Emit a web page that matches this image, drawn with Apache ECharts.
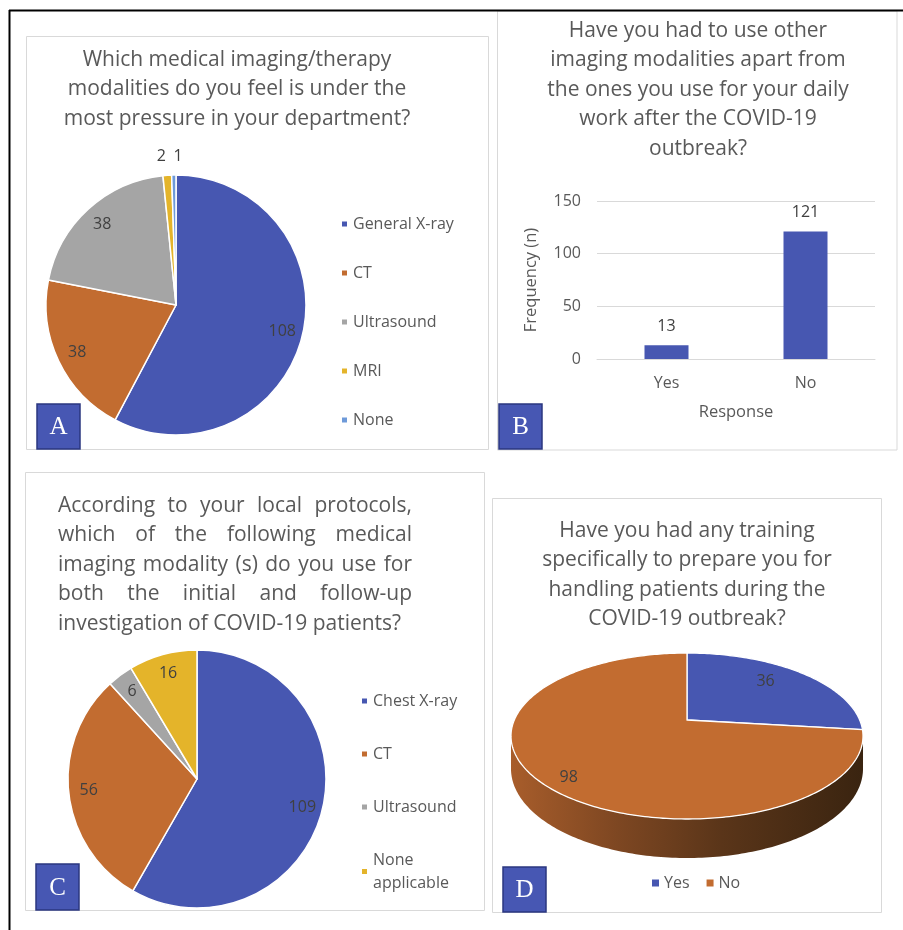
<!DOCTYPE html>
<html><head><meta charset="utf-8">
<script src="https://cdn.jsdelivr.net/npm/echarts@6/dist/echarts.min.js"></script>
<style>html,body{margin:0;padding:0;background:#fff}#c{width:903px;height:930px}</style>
</head><body><div id="c"></div>
<script>
// ---------- DATA ----------
// Panel A
const modalityNames = ['General X-ray', 'CT', 'Ultrasound', 'MRI', 'None'];
const modalityValues = [108, 38, 38, 2, 1];
// Panel B
const otherModalityCategories = ['Yes', 'No'];
const otherModalityValues = [13, 121];
const frequencyTicks = [0, 50, 100, 150];
// Panel C
const protocolNames = ['Chest X-ray', 'CT', 'Ultrasound', 'None applicable'];
const protocolValues = [109, 56, 6, 16];
// Panel D
const trainingNames = ['Yes', 'No'];
const trainingValues = [36, 98];

const titleA = ['Which medical imaging/therapy', 'modalities do you feel is under the', 'most pressure in your department?'];
const titleB = ['Have you had to use other', 'imaging modalities apart from', 'the ones you use for your daily', 'work after the COVID-19', 'outbreak?'];
const titleC = ['According to your local protocols,', 'which of the following medical', 'imaging modality (s) do you use for', 'both the initial and follow-up', 'investigation of COVID-19 patients?'];
const titleD = ['Have you had any training', 'specifically to prepare you for', 'handling patients during the', 'COVID-19 outbreak?'];
const panelLetters = ['A', 'B', 'C', 'D'];

// ---------- STYLE ----------
const FONT = '"Open Sans", sans-serif';
const TXT = '#595959', LBL = '#404040';
const COL = {blue: '#4757B1', orange: '#C26C30', gray: '#A5A5A5', yellow: '#E4B42A', lightBlue: '#6E9AD9'};
const modalityColors = [COL.blue, COL.orange, COL.gray, COL.yellow, COL.lightBlue];
const protocolColors = [COL.blue, COL.orange, COL.gray, COL.yellow];
const trainingColors = [COL.blue, COL.orange];
const TITLE_SIZE = 21, TITLE_LH = 29.5;

const chart = echarts.init(document.getElementById('c'), null, {renderer: 'canvas'});

function pieItems(names, values, colors) {
  return names.map((n, i) => ({name: n, value: values[i], itemStyle: {color: colors[i]}}));
}

// ---- 3D pie (panel D) via custom series ----
const P3 = {cx: 687, cy: 720, rx: 172.7, ry: 79.9, a: 0.193, h: 31.5};
const labelPosD = [{r: 0.66, depth: -0.2}, {r: 0.82, depth: 0.25}];
function proj(r, phi, depth) {
  const t = phi * Math.PI / 180;
  const u = r * Math.sin(t), v = r * Math.cos(t);
  const s = 1 / (1 + P3.a * v);
  return [P3.cx + P3.rx * u * s, P3.cy - P3.ry * v * s + P3.h * s * depth];
}
const PHI_L = Math.acos(-P3.a) * 180 / Math.PI, PHI_R = 360 - PHI_L;
function arc(a0, a1, depth) {
  const pts = [];
  const n = Math.max(2, Math.ceil(Math.abs(a1 - a0)));
  for (let k = 0; k <= n; k++) pts.push(proj(1, a0 + (a1 - a0) * k / n, depth));
  return pts;
}
function sliceRenderer(i) {
  return function (params, api) {
    const total = trainingValues.reduce((s, v) => s + v, 0);
    let start = 0;
    for (let k = 0; k < i; k++) start += trainingValues[k] / total * 360;
    const end = start + api.value(0) / total * 360;
    const color = api.visual('color');
    const children = [];
    const w0 = Math.max(start, PHI_L), w1 = Math.min(end, PHI_R);
    if (w1 > w0) {
      const pts = arc(w0, w1, 0).concat(arc(w1, w0, 1));
      children.push({
        type: 'polygon', z2: 0, shape: {points: pts},
        style: {
          fill: {type: 'linear', x: 511, y: 0, x2: 862, y2: 0, global: true,
            colorStops: [{offset: 0, color: '#A85D2B'}, {offset: 0.3, color: '#7E4722'},
              {offset: 0.6, color: '#5A3519'}, {offset: 1, color: '#3A2410'}]},
          stroke: null
        }
      });
    }
    const top = [proj(0, 0, 0)].concat(arc(start, end, 0));
    children.push({type: 'polygon', z2: 10, shape: {points: top},
      style: {fill: color, stroke: '#ffffff', lineWidth: 1.3}});
    const lp = labelPosD[i];
    const c = proj(lp.r, (start + end) / 2, lp.depth);
    children.push({type: 'text', z2: 20, x: c[0], y: c[1],
      style: {text: String(api.value(0)), fontSize: 16, fontFamily: FONT, fill: LBL, align: 'center', verticalAlign: 'middle'}});
    return {type: 'group', children};
  };
}

// ---- justified title (panel C) ----
function justifiedTitle(lines, left, right, top) {
  const ctx = document.createElement('canvas').getContext('2d');
  ctx.font = TITLE_SIZE + 'px ' + FONT;
  const els = [];
  lines.forEach((line, i) => {
    const y = top + TITLE_LH * i + TITLE_LH / 2;
    const style = {fontSize: TITLE_SIZE, fontFamily: FONT, fill: TXT, verticalAlign: 'middle', align: 'left'};
    const words = line.split(' ');
    if (i === lines.length - 1 || words.length < 2) {
      els.push({type: 'text', x: left, y, style: Object.assign({text: line}, style)});
      return;
    }
    const widths = words.map(w => ctx.measureText(w).width);
    const sum = widths.reduce((s, v) => s + v, 0);
    const gap = (right - left - sum) / (words.length - 1);
    let x = left;
    words.forEach((w, k) => {
      els.push({type: 'text', x, y, style: Object.assign({text: w}, style)});
      x += widths[k] + gap;
    });
  });
  return els;
}

// ---- graphic decorations ----
const panels = [
  {x: 26.5, y: 36.5, w: 462, h: 413},
  {x: 497.5, y: 11, w: 399.5, h: 439},
  {x: 25.5, y: 472.5, w: 459, h: 438},
  {x: 492.5, y: 498.5, w: 389, h: 414}
];
const letterBoxes = [
  {x: 37, y: 404, w: 43, h: 45},
  {x: 499, y: 404, w: 43, h: 45},
  {x: 36, y: 864, w: 43, h: 46},
  {x: 503, y: 867, w: 43, h: 45}
];
const graphics = [];
panels.forEach(p => graphics.push({type: 'rect', z: 0, shape: {x: p.x, y: p.y, width: p.w, height: p.h},
  style: {fill: null, stroke: '#D9D9D9', lineWidth: 1}}));
graphics.push({type: 'line', z: 50, shape: {x1: 9, y1: 10.5, x2: 903, y2: 10.5}, style: {stroke: '#000', lineWidth: 2}});
graphics.push({type: 'line', z: 50, shape: {x1: 9.5, y1: 10, x2: 9.5, y2: 930}, style: {stroke: '#000', lineWidth: 2}});
letterBoxes.forEach((b, i) => {
  graphics.push({type: 'rect', z: 60, shape: {x: b.x, y: b.y, width: b.w, height: b.h},
    style: {fill: '#4757B3', stroke: '#2B3780', lineWidth: 1.5}});
  graphics.push({type: 'text', z: 61, x: b.x + b.w / 2, y: b.y + b.h / 2 + 1,
    style: {text: panelLetters[i], fontSize: 25, fontFamily: '"Liberation Serif", "DejaVu Serif", serif', fill: '#ffffff', align: 'center', verticalAlign: 'middle'}});
});
justifiedTitle(titleC, 58, 412, 506 - TITLE_LH / 2).forEach(e => graphics.push(e));

const titleStyle = {fontSize: TITLE_SIZE, fontFamily: FONT, color: TXT, fontWeight: 'normal', lineHeight: TITLE_LH};
const legendText = {fontSize: 16, fontFamily: FONT, color: TXT};

const option = {
  animation: false,
  backgroundColor: '#ffffff',
  textStyle: {fontFamily: FONT},
  title: [
    {text: titleA.join('\n'), left: 237, top: 45, textAlign: 'center', padding: 0, textStyle: titleStyle},
    {text: titleB.join('\n'), left: 698, top: 16, textAlign: 'center', padding: 0, textStyle: titleStyle},
    {text: titleD.join('\n'), left: 687, top: 516, textAlign: 'center', padding: 0, textStyle: titleStyle}
  ],
  legend: [
    {data: modalityNames, orient: 'vertical', left: 340, top: 214, padding: 0, itemWidth: 7, itemHeight: 7, icon: 'rect',
      itemGap: 29, textStyle: Object.assign({lineHeight: 20}, legendText), selectedMode: false},
    {data: protocolNames, orient: 'vertical', left: 360, top: 689.5, padding: 0, itemWidth: 7, itemHeight: 7, icon: 'rect',
      itemGap: 30, textStyle: Object.assign({lineHeight: 23}, legendText), selectedMode: false,
      formatter: n => n.replace('None ', 'None\n')},
    {data: trainingNames, orient: 'horizontal', left: 652, top: 873, padding: 0, itemWidth: 7, itemHeight: 7, icon: 'rect',
      itemGap: 17, textStyle: Object.assign({lineHeight: 20}, legendText), selectedMode: false}
  ],
  grid: {left: 597, top: 201, width: 278, height: 158, containLabel: false, outerBoundsMode: 'none'},
  xAxis: {type: 'category', data: otherModalityCategories,
    axisLine: {show: true, lineStyle: {color: '#D9D9D9', width: 1}}, axisTick: {show: false},
    axisLabel: {fontSize: 16, fontFamily: FONT, color: TXT, margin: 16},
    name: 'Response', nameLocation: 'middle', nameGap: 45,
    nameTextStyle: {fontSize: 16.5, fontFamily: FONT, color: TXT}},
  yAxis: {type: 'value', min: frequencyTicks[0], max: frequencyTicks[frequencyTicks.length - 1],
    interval: frequencyTicks[1] - frequencyTicks[0],
    axisLine: {show: false}, axisTick: {show: false},
    splitLine: {lineStyle: {color: '#D9D9D9', width: 1}},
    axisLabel: {fontSize: 16, fontFamily: FONT, color: TXT, margin: 16},
    name: 'Frequency (n)', nameLocation: 'middle', nameGap: 57,
    nameTextStyle: {fontSize: 16.5, fontFamily: FONT, color: TXT}},
  graphic: {elements: graphics},
  series: [
    {type: 'pie', name: 'Modalities', center: [176, 305], radius: [0, 130], startAngle: 90, clockwise: true,
      silent: true, label: {show: false}, labelLine: {show: false},
      itemStyle: {borderColor: '#ffffff', borderWidth: 1.5},
      data: pieItems(modalityNames, modalityValues, modalityColors)},
    {type: 'pie', name: 'Protocols', center: [197, 779], radius: [0, 129], startAngle: 90, clockwise: true,
      silent: true, label: {show: false}, labelLine: {show: false},
      itemStyle: {borderColor: '#ffffff', borderWidth: 1.5},
      data: pieItems(protocolNames, protocolValues, protocolColors)},
    {type: 'pie', name: 'ModalitiesLabels', center: [176, 305], radius: [83, 130], startAngle: 90, clockwise: true,
      silent: true, avoidLabelOverlap: false,
      itemStyle: {color: 'rgba(0,0,0,0)', borderWidth: 0},
      label: {show: true, position: 'inside', formatter: '{c}', fontSize: 16, fontFamily: FONT, color: LBL, distanceToLabelLine: 0},
      labelLine: {show: false},
      labelLayout: p => (p.dataIndex === modalityValues.length - 1 ? {align: 'left'} : {}),
      data: modalityValues.map((v, i) => {
        const small = v / modalityValues.reduce((s, x) => s + x, 0) < 0.03;
        return small ? {value: v, label: {position: 'outside', distanceToLabelLine: 0}, labelLine: {show: false, length: 19, length2: 0}} : {value: v};
      })},
    {type: 'pie', name: 'ProtocolsLabels', center: [197, 779], radius: [83, 129], startAngle: 90, clockwise: true,
      silent: true, avoidLabelOverlap: false,
      itemStyle: {color: 'rgba(0,0,0,0)', borderWidth: 0},
      label: {show: true, position: 'inside', formatter: '{c}', fontSize: 16, fontFamily: FONT, color: LBL},
      labelLine: {show: false},
      data: protocolValues.map(v => ({value: v}))},
    {type: 'bar', name: 'Frequency', data: otherModalityValues, barWidth: 44,
      itemStyle: {color: COL.blue},
      label: {show: true, position: 'top', distance: 11, fontSize: 16, fontFamily: FONT, color: LBL}},
    ...trainingNames.map((n, i) => ({
      type: 'custom', name: n, coordinateSystem: 'none', silent: true,
      itemStyle: {color: trainingColors[i]},
      renderItem: sliceRenderer(i),
      data: [trainingValues[i]]
    }))
  ]
};
chart.setOption(option);
</script>
</body></html>
